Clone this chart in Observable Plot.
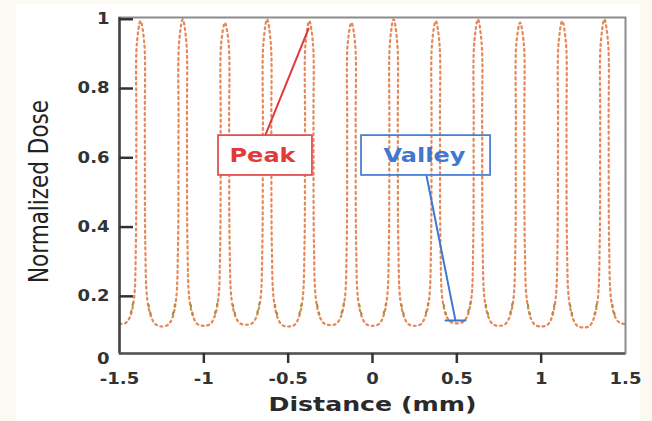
<!DOCTYPE html>
<html>
<head>
<meta charset="utf-8">
<script src="https://cdn.jsdelivr.net/npm/d3@7"></script>
<script src="https://cdn.jsdelivr.net/npm/@observablehq/plot@0.6"></script>
<style>
  html, body { margin: 0; padding: 0; background: #fcf8f2; }
  #wrap { position: relative; width: 652px; height: 421px; overflow: hidden; }
  #panel { position: absolute; left: 16px; top: 4px; width: 624px; height: 417px; background: #ffffff; }
  #chart { position: absolute; left: 0; top: 0; }
</style>
</head>
<body>
<div id="wrap"><div id="panel"></div><div id="chart"></div></div>
<script>
// ---- data ----
const distance = [
  -1.5, -1.465, -1.44, -1.415, -1.403, -1.4, -1.397, -1.375, -1.353, -1.35, -1.347, -1.335, -1.31, -1.285,
  -1.25, -1.215, -1.19, -1.165, -1.153, -1.15, -1.147, -1.125, -1.103, -1.1, -1.097, -1.085, -1.06, -1.035,
  -1.0, -0.965, -0.94, -0.915, -0.903, -0.9, -0.897, -0.875, -0.853, -0.85, -0.847, -0.835, -0.81, -0.785,
  -0.75, -0.715, -0.69, -0.665, -0.653, -0.65, -0.647, -0.625, -0.603, -0.6, -0.597, -0.585, -0.56, -0.535,
  -0.5, -0.465, -0.44, -0.415, -0.403, -0.4, -0.397, -0.375, -0.353, -0.35, -0.347, -0.335, -0.31, -0.285,
  -0.25, -0.215, -0.19, -0.165, -0.153, -0.15, -0.147, -0.125, -0.103, -0.1, -0.097, -0.085, -0.06, -0.035,
  0, 0.035, 0.06, 0.085, 0.097, 0.1, 0.103, 0.125, 0.147, 0.15, 0.153, 0.165, 0.19, 0.215,
  0.25, 0.285, 0.31, 0.335, 0.347, 0.35, 0.353, 0.375, 0.397, 0.4, 0.403, 0.415, 0.44, 0.465,
  0.5, 0.535, 0.56, 0.585, 0.597, 0.6, 0.603, 0.625, 0.647, 0.65, 0.653, 0.665, 0.69, 0.715,
  0.75, 0.785, 0.81, 0.835, 0.847, 0.85, 0.853, 0.875, 0.897, 0.9, 0.903, 0.915, 0.94, 0.965,
  1.0, 1.035, 1.06, 1.085, 1.097, 1.1, 1.103, 1.125, 1.147, 1.15, 1.153, 1.165, 1.19, 1.215,
  1.25, 1.285, 1.31, 1.335, 1.347, 1.35, 1.353, 1.375, 1.397, 1.4, 1.403, 1.415, 1.44, 1.465,
  1.5
];
const dose = [
  0.120, 0.123, 0.138, 0.19, 0.35, 0.7, 0.93, 0.995, 0.93, 0.7, 0.35, 0.19, 0.138, 0.119,
  0.113, 0.117, 0.134, 0.19, 0.35, 0.7, 0.93, 1.0, 0.93, 0.7, 0.35, 0.19, 0.137, 0.119,
  0.115, 0.119, 0.137, 0.19, 0.35, 0.7, 0.93, 0.99, 0.93, 0.7, 0.35, 0.19, 0.139, 0.122,
  0.118, 0.122, 0.139, 0.19, 0.35, 0.7, 0.93, 1.0, 0.93, 0.7, 0.35, 0.19, 0.135, 0.117,
  0.113, 0.117, 0.135, 0.19, 0.35, 0.7, 0.93, 0.995, 0.93, 0.7, 0.35, 0.19, 0.138, 0.121,
  0.117, 0.121, 0.138, 0.19, 0.35, 0.7, 0.93, 0.99, 0.93, 0.7, 0.35, 0.19, 0.137, 0.119,
  0.115, 0.119, 0.137, 0.19, 0.35, 0.7, 0.93, 1.0, 0.93, 0.7, 0.35, 0.19, 0.137, 0.119,
  0.115, 0.119, 0.138, 0.19, 0.35, 0.7, 0.93, 0.995, 0.93, 0.7, 0.35, 0.19, 0.141, 0.126,
  0.122, 0.126, 0.141, 0.19, 0.35, 0.7, 0.93, 1.0, 0.93, 0.7, 0.35, 0.19, 0.137, 0.119,
  0.115, 0.119, 0.137, 0.19, 0.35, 0.7, 0.93, 0.99, 0.93, 0.7, 0.35, 0.19, 0.135, 0.117,
  0.113, 0.117, 0.135, 0.19, 0.35, 0.7, 0.93, 0.995, 0.93, 0.7, 0.35, 0.19, 0.134, 0.115,
  0.110, 0.114, 0.134, 0.19, 0.35, 0.7, 0.93, 1.0, 0.93, 0.7, 0.35, 0.19, 0.139, 0.124,
  0.120
];
const xDomain = [-1.5, 1.5];
const yDomain = [0.035, 1.005];
const xTickLabels = [-1.5, -1, -0.5, 0, 0.5, 1, 1.5];
const xTickMarks = [-1, -0.5, 0, 0.5, 1];
const yTickLabels = [0.2, 0.4, 0.6, 0.8, 1];
const yZeroLabel = [0];
const yTickMarks = [0.2, 0.4, 0.6, 0.8, 1];

// annotation callouts (data coordinates)
const peakBox = {x1: -0.913, x2: -0.356, y1: 0.549, y2: 0.664, label: "Peak", x: -0.652, y: 0.607};
const peakLeader = [{x: -0.634, y: 0.667}, {x: -0.379, y: 0.973}];
const valleyBox = {x1: -0.065, x2: 0.700, y1: 0.549, y2: 0.664, label: "Valley", x: 0.308, y: 0.607};
const valleyLeader = [{x: 0.320, y: 0.549}, {x: 0.492, y: 0.130}];
const valleyBar = [{x: 0.433, y: 0.130}, {x: 0.551, y: 0.130}];

const table = distance.map((d, i) => ({distance: d, dose: dose[i]}));

const tickFont = {fontFamily: "DejaVu Sans", fontWeight: "bold", fontSize: 15, fill: "#333"};

const chart = Plot.plot({
  width: 652,
  height: 421,
  marginLeft: 119,
  marginRight: 27,
  marginTop: 17,
  marginBottom: 68,
  style: {background: "transparent", overflow: "visible"},
  x: {domain: xDomain},
  y: {domain: yDomain},
  marks: [
    // green series underneath (visible on the valley flanks)
    Plot.line(table, {
      x: "distance", y: d => (d.dose >= 0.13 && d.dose <= 0.2) ? d.dose : NaN,
      stroke: "#6fa23a", strokeWidth: 2, strokeDasharray: "2,6", strokeDashoffset: 3,
      curve: "catmull-rom"
    }),
    Plot.line(table, {
      x: "distance", y: "dose",
      stroke: "#e27a44", strokeWidth: 2.2, strokeOpacity: 0.9, strokeDasharray: "2,3.6",
      curve: "catmull-rom"
    }),
    // frame
    Plot.frame({stroke: "#8c8c8c", strokeWidth: 2}),
    Plot.ruleX([xDomain[0]], {stroke: "#444", strokeWidth: 2.5}),
    Plot.ruleY([yDomain[0]], {stroke: "#555", strokeWidth: 2.5}),
    // axes
    Plot.axisY(yTickMarks, {tickSize: -14, tickFormat: () => "", stroke: "#333", strokeWidth: 2.5, label: null}),
    Plot.axisY(yTickLabels, {tickSize: 0, tickPadding: 10, tickFormat: d => String(d), label: null, ...tickFont}),
    Plot.axisY(yZeroLabel, {tickSize: 0, tickPadding: 10, dy: -6, tickFormat: d => String(d), label: null, ...tickFont}),
    Plot.axisX(xTickMarks, {tickSize: 10, tickFormat: () => "", stroke: "#333", strokeWidth: 2.5, label: null}),
    Plot.axisX(xTickLabels, {tickSize: 0, tickPadding: 20, tickFormat: d => String(d), label: null, ...tickFont}),
    // axis titles
    Plot.text(["Distance (mm)"], {
      frameAnchor: "bottom", dy: 51, lineAnchor: "middle", textAnchor: "middle",
      fontFamily: "DejaVu Sans", fontWeight: "bold", fontSize: 20, fill: "#2a2a2a"
    }),
    Plot.text(["Normalized Dose"], {
      frameAnchor: "left", dx: -80, dy: 6, rotate: -90, lineAnchor: "middle", textAnchor: "middle",
      fontFamily: "'Liberation Sans Narrow', 'DejaVu Sans Condensed', sans-serif", fontSize: 27, fill: "#222"
    }),
    // Peak callout
    Plot.line(peakLeader, {x: "x", y: "y", stroke: "#e03a3a", strokeWidth: 2}),
    Plot.rect([peakBox], {x1: "x1", x2: "x2", y1: "y1", y2: "y2", fill: "white", stroke: "#e25050", strokeWidth: 1.8}),
    Plot.text([peakBox], {x: "x", y: "y", text: "label", fill: "#e03a3a", fontFamily: "DejaVu Sans", fontWeight: "bold", fontSize: 20}),
    // Valley callout
    Plot.line(valleyLeader, {x: "x", y: "y", stroke: "#3f78cf", strokeWidth: 2}),
    Plot.line(valleyBar, {x: "x", y: "y", stroke: "#3f78cf", strokeWidth: 2}),
    Plot.rect([valleyBox], {x1: "x1", x2: "x2", y1: "y1", y2: "y2", fill: "none", stroke: "#4a80d4", strokeWidth: 1.8}),
    Plot.text([valleyBox], {x: "x", y: "y", text: "label", fill: "#3f78cf", fontFamily: "DejaVu Sans", fontWeight: "bold", fontSize: 20})
  ]
});
document.getElementById("chart").appendChild(chart);

// widen the glyphs a little, as in the (horizontally stretched) original figure
const targetLength = {"Distance (mm)": 208, "Normalized Dose": 183};
chart.querySelectorAll("text").forEach(t => {
  const s = t.textContent;
  if (!s) return;
  const w = t.getComputedTextLength();
  const target = targetLength[s] ?? w * 1.2;
  t.setAttribute("textLength", target);
  t.setAttribute("lengthAdjust", "spacingAndGlyphs");
});
</script>
</body>
</html>
